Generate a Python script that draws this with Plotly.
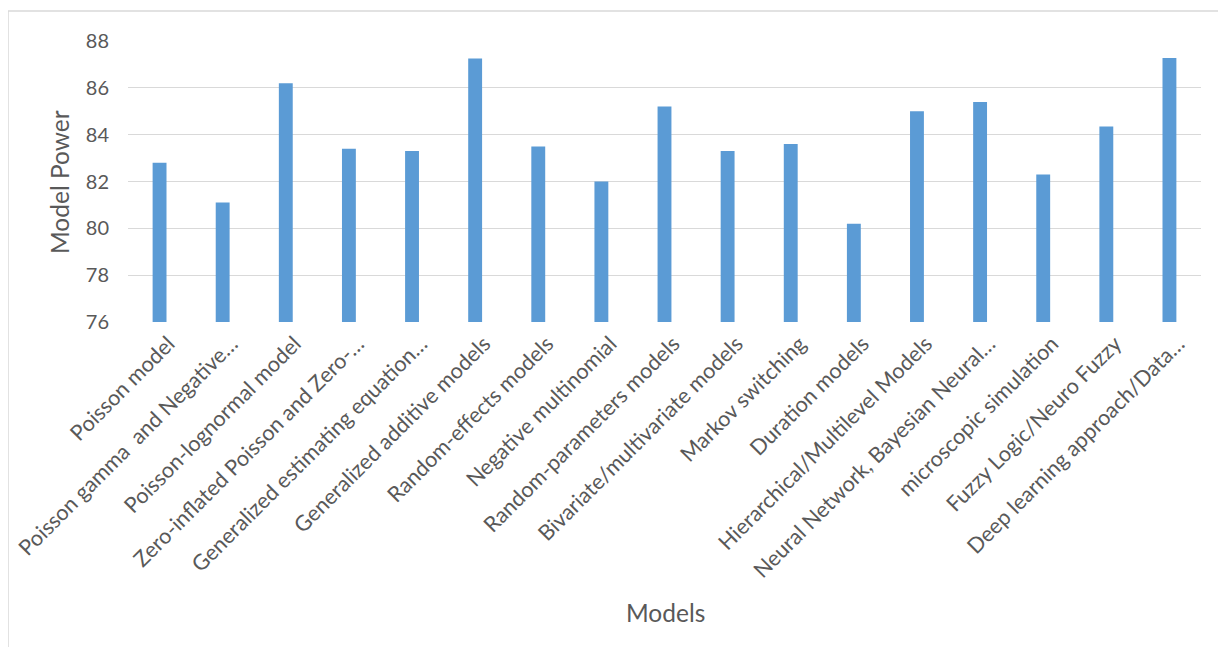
import plotly.graph_objects as go

categories = [
    "Poisson model",
    "Poisson gamma  and Negative…",
    "Poisson-lognormal model",
    "Zero-inflated Poisson and Zero-…",
    "Generalized estimating equation…",
    "Generalized additive models",
    "Random-effects models",
    "Negative multinomial",
    "Random-parameters models",
    "Bivariate/multivariate models",
    "Markov switching",
    "Duration models",
    "Hierarchical/Multilevel Models",
    "Neural Network, Bayesian Neural…",
    "microscopic simulation",
    "Fuzzy Logic/Neuro Fuzzy",
    "Deep learning approach/Data…",
]
model_power = [82.8, 81.1, 86.2, 83.4, 83.3, 87.25, 83.5, 82.0, 85.2, 83.3,
               83.6, 80.2, 85.0, 85.4, 82.3, 84.35, 87.27]
y_ticks = [76, 78, 80, 82, 84, 86, 88]

FONT = "Lato"
GRAY = "#595959"

# page body has an 8px margin; screen coords = figure coords + 8
OFF = 8
W, H = 1210, 639
L = 128 - OFF
T = 41 - OFF
plot_right = 1201 - OFF
plot_bottom = 322 - OFF
R = W - plot_right
B = H - plot_bottom
pw, ph = W - L - R, H - T - B


def px_x(sx):
    return (sx - OFF - L) / pw


def px_y(sy):
    return (plot_bottom - (sy - OFF)) / ph


fig = go.Figure(go.Bar(
    x=categories, y=model_power, marker=dict(color="#5B9BD5", line=dict(width=0)),
))

fig.update_layout(
    width=W, height=H,
    margin=dict(l=L, r=R, t=T, b=B, autoexpand=False),
    paper_bgcolor="white", plot_bgcolor="white",
    bargap=0.78,
    showlegend=False,
    font=dict(family=FONT, color=GRAY),
    xaxis=dict(
        type="category", tickangle=-45, tickfont=dict(size=21.6, color=GRAY, family=FONT),
        showgrid=False, showline=False, ticks="", automargin=False,
        ticklabelshift=9, ticklabelstandoff=4,
    ),
    yaxis=dict(
        range=[76, 88], tickvals=y_ticks, tickfont=dict(size=20, color=GRAY, family=FONT),
        showgrid=True, gridcolor="#D9D9D9", gridwidth=1.3, zeroline=False,
        showline=False, ticks="", ticklabelstandoff=18, automargin=False,
    ),
    annotations=[
        dict(text="Models", xref="paper", yref="paper", x=px_x(665), y=px_y(612),
             showarrow=False, font=dict(size=24.5, color=GRAY, family=FONT),
             xanchor="center", yanchor="middle"),
        dict(text="Model Power", xref="paper", yref="paper", x=px_x(59), y=px_y(182),
             showarrow=False, textangle=-90, font=dict(size=24.5, color=GRAY, family=FONT),
             xanchor="center", yanchor="middle"),
    ],
    shapes=[
        dict(type="rect", xref="paper", yref="paper",
             x0=px_x(8), x1=1.3, y0=-3.0, y1=px_y(11),
             line=dict(color="#D9D9D9", width=1.5), fillcolor="rgba(0,0,0,0)", layer="below"),
    ],
)

fig.write_html("out.html")
